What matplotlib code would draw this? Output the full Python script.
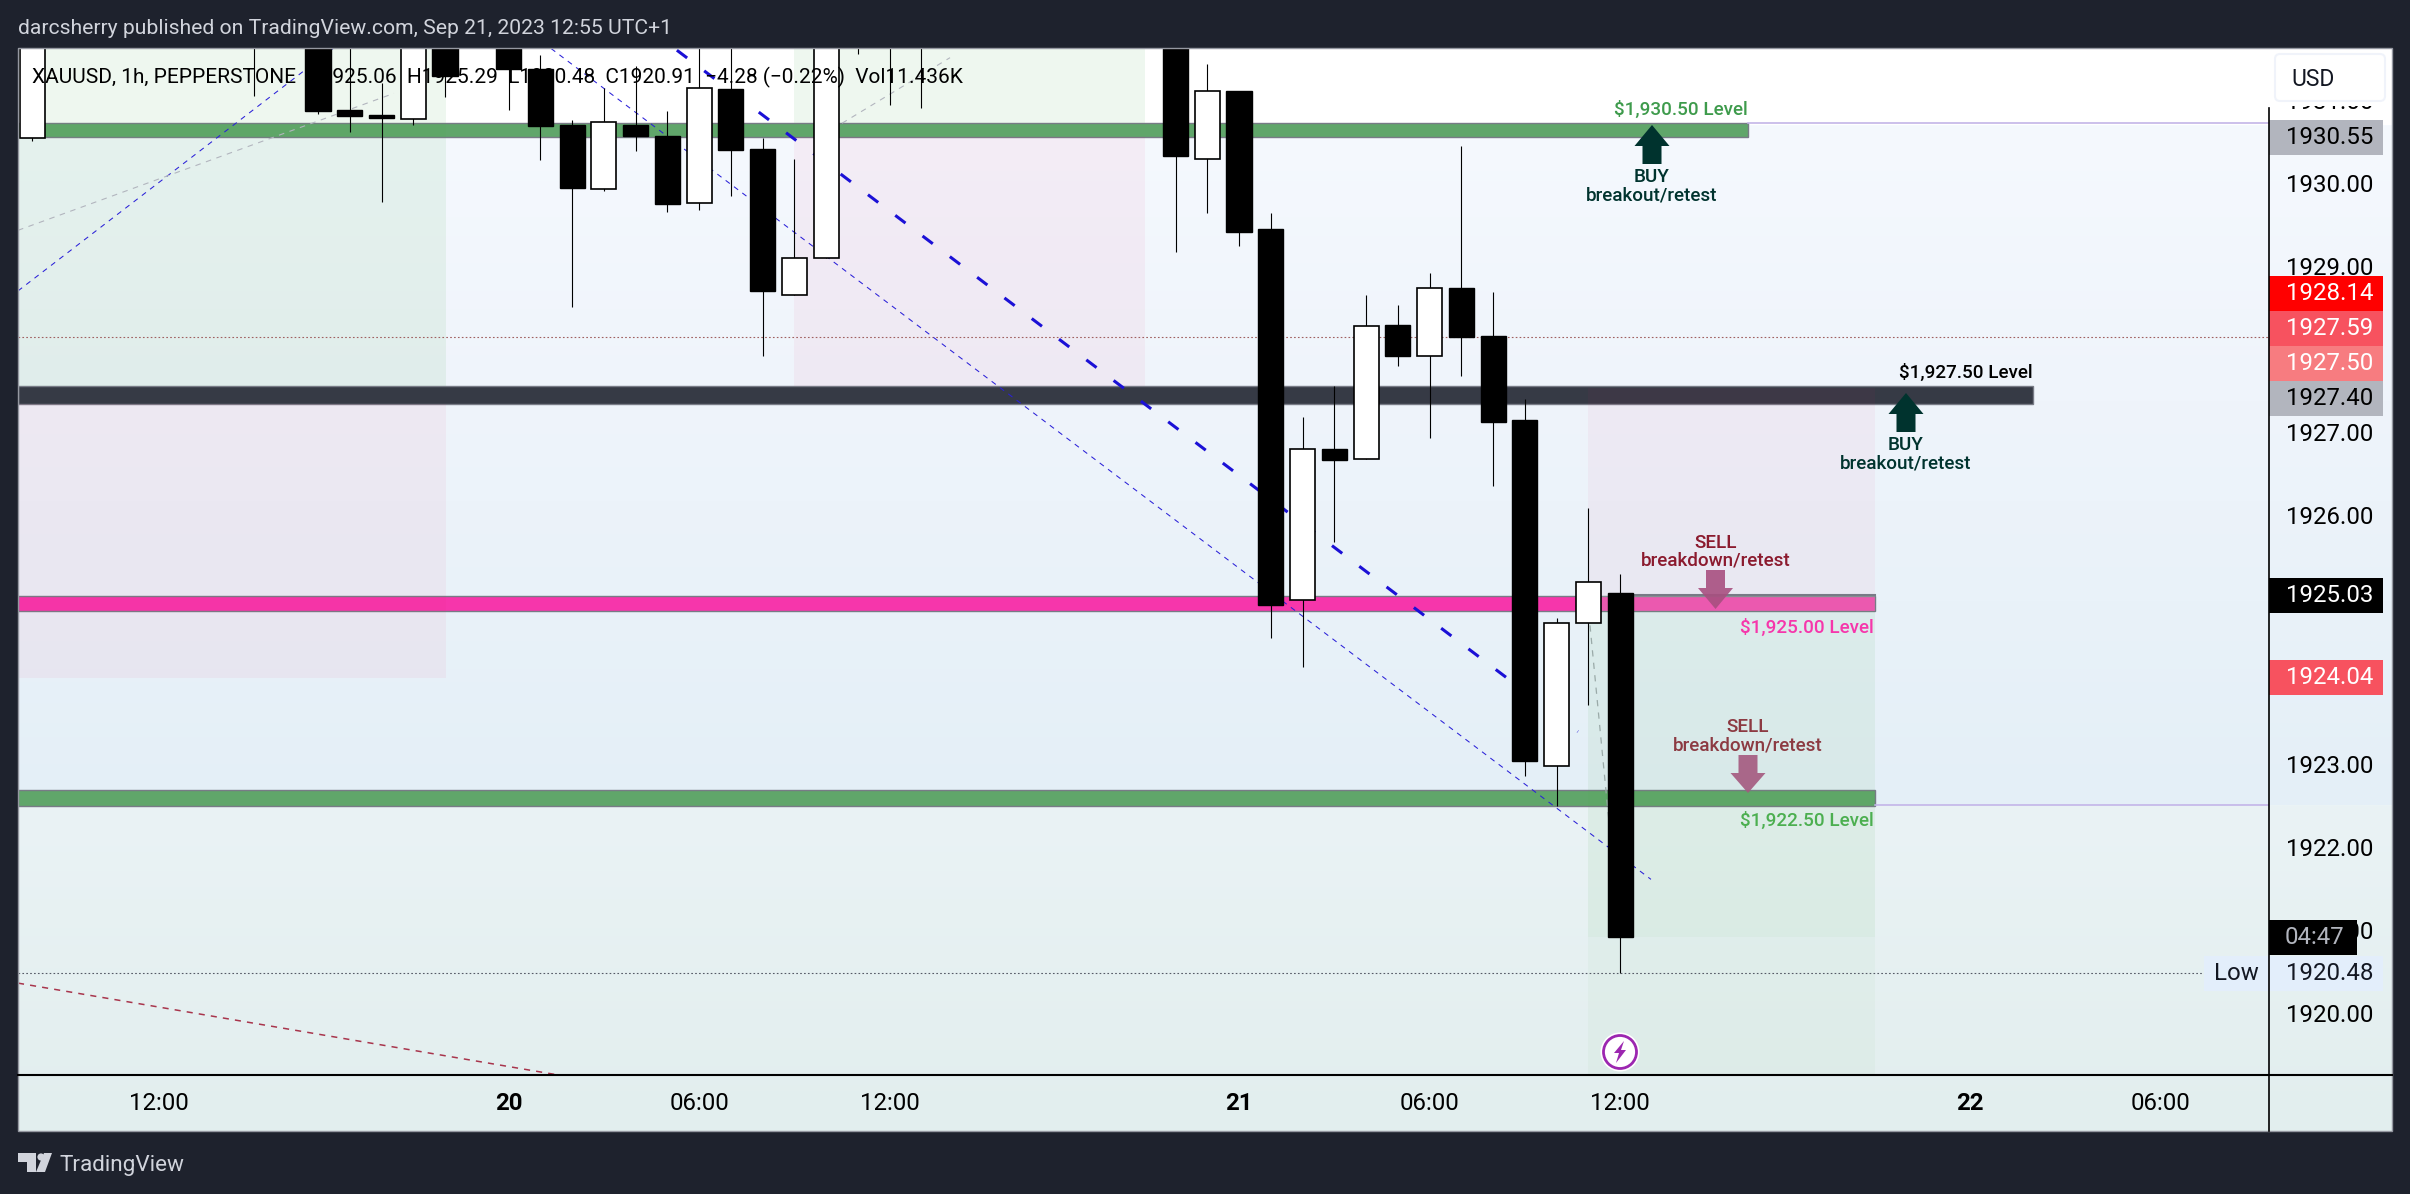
import matplotlib
matplotlib.use("Agg")
import matplotlib.pyplot as plt
from matplotlib.patches import Rectangle, Polygon, Circle, FancyBboxPatch
from matplotlib.colors import to_rgb
import numpy as np

plt.rcParams['font.family'] = ['Roboto', 'DejaVu Sans']

# candles, index 0 is 12:00 on the 19th. Only bars that reach into the view
candle_idx = [-4, 3, 5, 6, 7, 8, 9, 11, 12, 13, 14, 15, 16, 17, 18, 19, 20, 21, 22, 23, 24,
              32, 33, 34, 35, 36, 37, 38, 39, 40, 41, 42, 43, 44, 45, 46]
opens = [1930.54, 1932.80, 1932.50, 1930.88, 1930.82, 1930.77, 1932.30, 1932.10, 1931.37, 1930.70,
         1929.93, 1930.70, 1930.57, 1929.76, 1931.13, 1930.41, 1928.65, 1929.10, 1932.80, 1932.60,
         1932.40, 1932.20, 1930.29, 1931.11, 1929.45, 1924.97, 1926.80, 1926.67, 1928.29, 1927.92,
         1928.73, 1928.16, 1927.14, 1922.98, 1924.70, 1925.06]
highs = [1932.50, 1933.00, 1933.00, 1932.00, 1931.20, 1932.30, 1932.50, 1932.30, 1931.54, 1930.76,
         1931.15, 1931.41, 1930.87, 1931.90, 1931.90, 1930.54, 1930.29, 1933.50, 1933.00, 1932.80,
         1932.60, 1932.40, 1931.43, 1931.11, 1929.64, 1927.18, 1927.55, 1928.65, 1928.53, 1928.92,
         1930.45, 1928.69, 1927.40, 1924.76, 1926.09, 1925.29]
lows = [1930.51, 1931.05, 1930.83, 1930.61, 1929.77, 1930.70, 1931.04, 1930.88, 1930.28, 1928.51,
        1929.90, 1930.39, 1929.65, 1929.67, 1929.84, 1927.92, 1928.65, 1929.10, 1931.55, 1930.94,
        1930.90, 1929.17, 1929.64, 1929.24, 1924.52, 1924.17, 1925.67, 1926.67, 1927.80, 1926.93,
        1927.68, 1926.35, 1922.85, 1922.49, 1923.71, 1920.48]
closes = [1932.30, 1932.20, 1930.87, 1930.81, 1930.78, 1932.10, 1931.29, 1931.37, 1930.69, 1929.94,
          1930.74, 1930.57, 1929.75, 1931.14, 1930.40, 1928.70, 1929.10, 1932.80, 1932.60, 1932.40,
          1932.20, 1930.33, 1931.11, 1929.41, 1924.92, 1926.80, 1926.66, 1928.28, 1927.92, 1928.73,
          1928.15, 1927.12, 1923.04, 1924.70, 1925.19, 1920.91]

time_ticks = [0, 11, 17, 23, 34, 40, 46, 57, 63]
time_labels = ['12:00', '20', '06:00', '12:00', '21', '06:00', '12:00', '22', '06:00']
bold_labels = ['20', '21', '22']
# 1924, 1925 and 1928 sit fully under the price tags
price_ticks = [1920, 1921, 1922, 1923, 1926, 1927, 1929, 1930, 1931]

# price scale tags: text, fill, text colour
tag_labels = ['1930.55', '1928.14', '1927.59', '1927.50', '1927.40', '1925.03', '1924.04']
tag_fills = ['#B2B5BE', '#FF0000', '#F7525F', '#F77C80', '#B2B5BE', '#000000', '#F7525F']
tag_text = ['#000000', '#FFFFFF', '#FFFFFF', '#FFFFFF', '#000000', '#FFFFFF', '#FFFFFF']
tag_centers = [137.5, 293.5, 328.5, 363.5, 398.5, 595, 677.5]

# figure pixel layout
W, H = 2410, 1194
BOX_L, BOX_T, BOX_R, BOX_B = 18, 48, 2392, 1131
AX_R, AX_B = 2268.5, 1075
BAR_PX = 31.76
X0_PX = 159.2
PX_PER_USD = 83.0
Y1920_PX = 1013.0
BG = '#1E222D'


def pos(l, t, r, b):
    return [l / W, 1 - b / H, (r - l) / W, (b - t) / H]


fig = plt.figure(figsize=(W / 100, H / 100), dpi=100, facecolor=BG)

# background gradient behind the whole chart box
bg = fig.add_axes(pos(BOX_L, BOX_T, BOX_R, BOX_B), zorder=0)
rows = np.arange(BOX_T, BOX_B)
stops_y = [48, 124, 125, 400, 600, 804, 805, 1131]
stops_c = ['#FFFFFF', '#FFFFFF', '#F5F9FE', '#EFF4FB', '#E9F2F9', '#E4EFF7', '#EAF3F5', '#E2EEEE']
grad = np.stack([np.interp(rows, stops_y, [to_rgb(c)[k] for c in stops_c]) for k in range(3)], axis=-1)
bg.imshow(grad[:, None, :], aspect='auto')
bg.axis('off')

# main chart, in bar index and price
ax = fig.add_axes(pos(BOX_L, BOX_T, AX_R, AX_B), zorder=1)
ax.patch.set_alpha(0)
ax.set_xlim((BOX_L - X0_PX) / BAR_PX, (AX_R - X0_PX) / BAR_PX)
ax.set_ylim(1920 + (Y1920_PX - AX_B) / PX_PER_USD, 1920 + (Y1920_PX - BOX_T) / PX_PER_USD)
for s in ax.spines.values():
    s.set_visible(False)

x_left, x_right = ax.get_xlim()
y_low, y_top = ax.get_ylim()


def ix(px):
    return (px - X0_PX) / BAR_PX


def zone(x0, x1, p0, p1, color, alpha):
    ax.add_patch(Rectangle((x0, p0), x1 - x0, p1 - p0, facecolor=color, alpha=alpha, edgecolor='none', zorder=3))


def band(x1, p0, p1, color):
    ax.add_patch(Rectangle((x_left, p0), x1 - x_left, p1 - p0, facecolor=color, edgecolor='#787B86',
                           linewidth=1.0, zorder=2))


# level bands
band(ix(1748), 1930.55, 1930.72, '#60A66A')
band(ix(2033), 1927.34, 1927.56, '#363A45')
band(ix(1875), 1924.84, 1925.02, '#F636AB')
band(ix(1875), 1922.50, 1922.69, '#60A66A')

# purple extensions to the scale
ax.plot([ix(1748), x_right], [1930.72, 1930.72], color='#C3B5E8', lw=1.2, zorder=2)
ax.plot([ix(1875), x_right], [1922.51, 1922.51], color='#C3B5E8', lw=1.2, zorder=2)

# shaded zones
zone(x_left, ix(446), 1927.56, y_top, '#4CAF50', 0.09)
zone(x_left, ix(446), 1924.04, 1927.34, '#E91E63', 0.05)
zone(ix(794), ix(1145), 1930.72, y_top, '#4CAF50', 0.09)
zone(ix(794), ix(1145), 1927.56, 1930.55, '#E91E63', 0.05)
zone(ix(1588), ix(1875), 1925.03, 1927.53, '#E91E63', 0.045)
zone(ix(1588), ix(1875), 1920.91, 1925.03, '#4CAF50', 0.04)
zone(ix(1588), ix(1875), y_low, 1925.03, '#4CAF50', 0.04)
ax.plot([46, ix(1875)], [1925.04, 1925.04], color='#787B86', lw=1.5, zorder=3)
ax.add_patch(Rectangle((ix(1588), 1924.84), ix(1875) - ix(1588), 0.18, facecolor='#FFFFFF', alpha=0.14,
                       edgecolor='none', zorder=3))

# horizontal dotted lines
ax.plot([x_left, x_right], [1928.14, 1928.14], color='#A06060', lw=0.8, dashes=(1.5, 2), zorder=3)
ax.plot([x_left, ix(2204)], [1920.48, 1920.48], color='#555A66', lw=0.8, dashes=(1.5, 2), zorder=3)

# trend lines
ax.plot([16.3, 44.67], [1931.60, 1923.39], color='#1B10D6', lw=2.2, dashes=(4.2, 7), zorder=4)
ax.plot([12.34, 46.97], [1931.62, 1921.61], color='#2A20D8', lw=0.75, dashes=(5, 5), zorder=4)
ax.plot([-4.446, 5.47], [1928.70, 1931.62], color='#2A20D8', lw=0.75, dashes=(5, 5), zorder=4)
ax.plot([-4.446, 7.39], [1929.43, 1931.08], color='#B2B5BE', lw=0.8, dashes=(5, 5), zorder=4)
ax.plot([21.5, 24.9], [1930.72, 1931.51], color='#B2B5BE', lw=0.8, dashes=(5, 5), zorder=4)
ax.plot([45.05, 46], [1924.67, 1920.91], color='#9AAAA8', lw=0.9, dashes=(5, 5), zorder=4)
ax.plot([-4.446, 12.46], [1920.36, 1919.26], color='#A8354C', lw=1.1, dashes=(4, 4), zorder=4)

# candles
body_w = 0.79
for i, o, h, l, c in zip(candle_idx, opens, highs, lows, closes):
    ax.plot([i, i], [l, h], color='#000000', lw=0.8, solid_capstyle='butt', zorder=5)
    if c >= o:
        ax.add_patch(Rectangle((i - body_w / 2, o), body_w, c - o, facecolor='#FFFFFF', edgecolor='#000000',
                               linewidth=1.2, zorder=6))
    else:
        ax.add_patch(Rectangle((i - body_w / 2, c), body_w, o - c, facecolor='#000000', edgecolor='#000000',
                               linewidth=1.0, zorder=6))

# axes ticks
ax.set_xticks(time_ticks)
ax.set_xticklabels(time_labels, fontsize=17.3, color='#000000')
for t in ax.get_xticklabels():
    if t.get_text() in bold_labels:
        t.set_fontweight('bold')
ax.set_yticks(price_ticks)
ax.set_yticklabels(['%.2f' % p for p in price_ticks], fontsize=17.3, color='#000000')
ax.yaxis.tick_right()
ax.tick_params(axis='both', length=0)
ax.tick_params(axis='y', pad=12.6)
ax.tick_params(axis='x', pad=12.2)

# everything else in plain figure pixels, drawn over the axes
ov = fig.add_axes([0, 0, 1, 1], zorder=2)
ov.set_xlim(0, W)
ov.set_ylim(H, 0)
ov.axis('off')
ov.patch.set_alpha(0)

# frame and scale lines
ov.add_patch(Rectangle((AX_R, BOX_T), BOX_R - AX_R, 106 - BOX_T, facecolor='#FFFFFF', edgecolor='none'))
ov.add_patch(Rectangle((BOX_L, BOX_T), BOX_R - BOX_L, BOX_B - BOX_T, fill=False, edgecolor='#9598A1', linewidth=1.0))
ov.plot([BOX_L, BOX_R], [AX_B, AX_B], color='#000000', lw=1.5)
ov.plot([AX_R, AX_R], [108, BOX_B], color='#000000', lw=1.2)

# arrows
def arrow(cx, tip, neck, end, color, alpha=1.0):
    hw, sw = 17.5, 9.5
    ov.add_patch(Polygon([(cx, tip), (cx + hw, neck), (cx + sw, neck), (cx + sw, end), (cx - sw, end),
                          (cx - sw, neck), (cx - hw, neck)], closed=True, facecolor=color, edgecolor='none', alpha=alpha))


arrow(1652, 125, 146, 164, '#00332E')
arrow(1906, 393, 414, 432, '#00332E')
arrow(1715.5, 609, 588, 570, '#A84F80', 0.9)
arrow(1748, 793, 773, 755, '#A4597F', 0.9)

note_fs = 13.6
for x, y, s, c in [(1652, 177.5, 'BUY', '#00332E'), (1652, 195.5, 'breakout/retest', '#00332E'),
                   (1906, 445.5, 'BUY', '#00332E'), (1906, 463.5, 'breakout/retest', '#00332E'),
                   (1715.5, 542.5, 'SELL', '#8B1A2E'), (1715.5, 560.5, 'breakdown/retest', '#8B1A2E'),
                   (1748, 727.5, 'SELL', '#8C3A42'), (1748, 745.5, 'breakdown/retest', '#8C3A42')]:
    ov.text(x, y, s, color=c, fontsize=note_fs, ha='center', va='center', fontweight='medium')
for x, y, s, c in [(1748, 109.5, '$1,930.50 Level', '#3E9B4C'), (2033, 372.5, '$1,927.50 Level', '#000000'),
                   (1874, 627.5, '$1,925.00 Level', '#F636AB'), (1874, 820.5, '$1,922.50 Level', '#4CAF50')]:
    ov.text(x, y, s, color=c, fontsize=note_fs, ha='right', va='center', fontweight='medium')

# price scale tags
for s, f, tc, y in zip(tag_labels, tag_fills, tag_text, tag_centers):
    ov.add_patch(Rectangle((AX_R, y - 17.5), 2383 - AX_R, 35, facecolor=f, edgecolor='none'))
    ov.text(2286, y, s, color=tc, fontsize=17.3, ha='left', va='center')

# countdown and low tag
ov.add_patch(Rectangle((AX_R, 920), 2357 - AX_R, 35, facecolor='#000000', edgecolor='none'))
ov.text(2285, 937.5, '04:47', color='#B2B5BE', fontsize=17.3, ha='left', va='center')
ov.add_patch(Rectangle((2204, 956), 179, 35, facecolor='#E3EEFB', edgecolor='none'))
ov.text(2214, 973, 'Low', color='#131722', fontsize=17.3, ha='left', va='center')
ov.text(2286, 973, '1920.48', color='#131722', fontsize=17.3, ha='left', va='center')

# USD button
ov.add_patch(FancyBboxPatch((2279, 58), 102, 39, boxstyle='round,pad=4,rounding_size=5', facecolor='#FFFFFF',
                            edgecolor='#F0F3FA', linewidth=1.5))
ov.text(2313, 79, 'USD', color='#131722', fontsize=16.5, ha='center', va='center')

# lightning icon
ov.add_patch(Circle((1620, 1052), 19.5, facecolor='#FFFFFF', edgecolor='none'))
ov.add_patch(Circle((1620, 1052), 16.5, facecolor='#FFFFFF', edgecolor='#9C27B0', linewidth=2.0))
ov.add_patch(Polygon([(1624, 1041), (1614, 1053), (1619, 1053), (1616, 1063), (1626, 1050), (1621, 1050)],
                     closed=True, facecolor='#9C27B0', edgecolor='none'))

# header texts
ov.text(18, 29, 'darcsherry published on TradingView.com, Sep 21, 2023 12:55 UTC+1', color='#D1D4DC',
        fontsize=15.2, ha='left', va='center')
ov.text(32, 77, 'XAUUSD, 1h, PEPPERSTONE  O1925.06  H1925.29  L1920.48  C1920.91  \u22124.28 (\u22120.22%)  Vol11.436K',
        color='#000000', fontsize=15.0, ha='left', va='center')

# TradingView logo
ov.add_patch(Polygon([(18, 1153), (36, 1153), (36, 1172), (27, 1172), (27, 1162), (18, 1162)], closed=True,
                     facecolor='#D1D4DC', edgecolor='none'))
ov.add_patch(Circle((41, 1157), 3.6, facecolor='#D1D4DC', edgecolor='none'))
ov.add_patch(Polygon([(44, 1153), (52, 1153), (45, 1172), (36, 1172)], closed=True, facecolor='#D1D4DC', edgecolor='none'))
ov.text(59, 1165, 'TradingView', color='#D1D4DC', fontsize=16.2, ha='left', va='center')

fig.savefig('out.png', dpi=100, facecolor=BG)
